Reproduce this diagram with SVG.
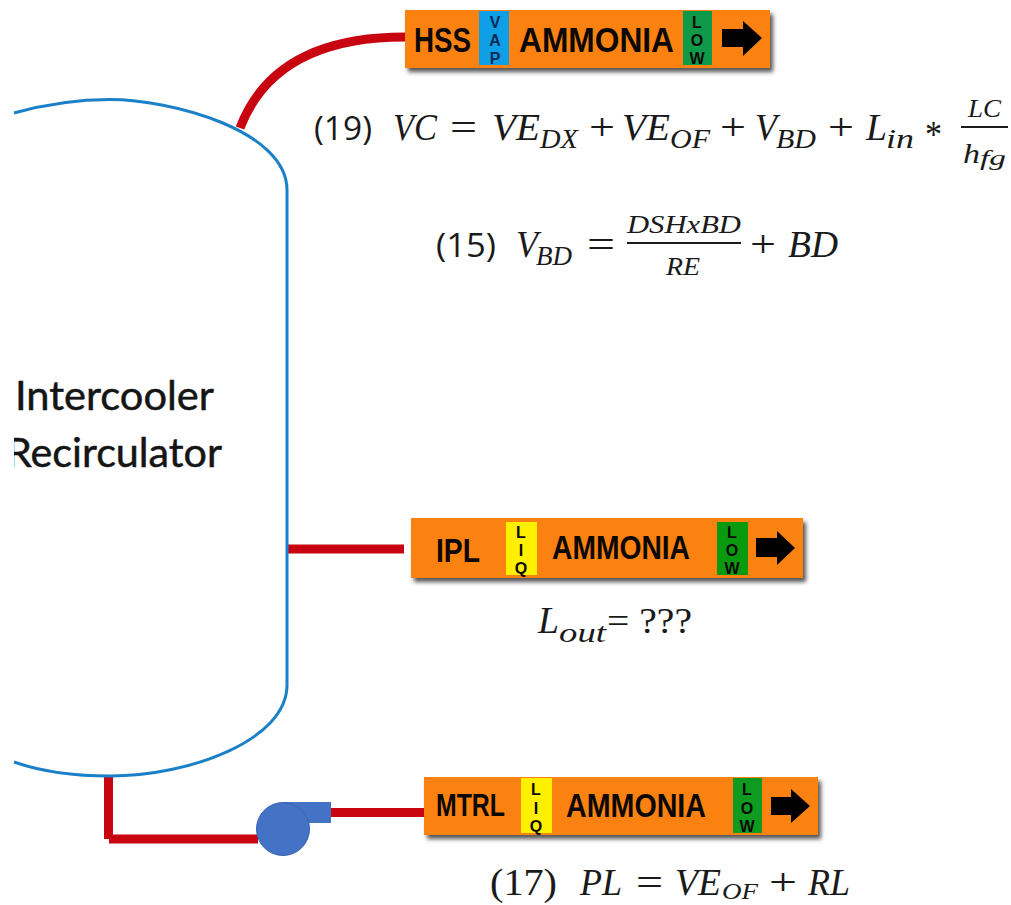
<svg xmlns="http://www.w3.org/2000/svg" width="1011" height="905" viewBox="0 0 1011 905">
<style>
.plate{fill:#fb8210}
.sh{fill:#555;filter:url(#b)}
.lb{font-family:"Liberation Sans",Arial,sans-serif;font-weight:700;fill:#0c0805}
.v{font-size:16px;text-anchor:middle}
.m{font-family:"Liberation Serif","Times New Roman",serif;font-size:38px;font-style:italic;fill:#1a1a1a}
.s{font-size:27px}
.n{font-style:normal}
.f{font-size:25px}
.pipe{fill:none;stroke:#c80410;stroke-width:9}
.rule{stroke:#1a1a1a;stroke-width:1.8}
</style>
<defs>
<filter id="b" x="-5%" y="-20%" width="110%" height="140%"><feGaussianBlur stdDeviation="2"/></filter>
<clipPath id="c"><rect x="14" y="0" width="400" height="905"/></clipPath>
</defs>
<rect width="1011" height="905" fill="#fff"/>
<g id="connectors">
<path class="pipe" d="M240 128 C262 70 315 37 405 37"/>
<path class="pipe" d="M288 549 H404"/>
<path class="pipe" d="M108.500 776 V839"/>
<path class="pipe" d="M109 839 H258"/>
<path class="pipe" d="M331 812.500 H424"/>
</g>
<g id="tank">
<path d="M14 113 C50 103 80 99.500 110 99.500 C170 99.500 287 130 287 190 V685 C287 740 190 776 110 776 C75 776 40 771 14 762" fill="none" stroke="#1a80c8" stroke-width="3"/>
<g clip-path="url(#c)" font-family="Lato,sans-serif" font-size="40" fill="#151515" stroke="#151515" stroke-width="0.5">
<text x="15" y="410" textLength="199" lengthAdjust="spacingAndGlyphs">Intercooler</text>
<text x="6" y="467" textLength="216" lengthAdjust="spacingAndGlyphs">Recirculator</text>
</g>
</g>
<g id="pump">
<rect x="283" y="802" width="48" height="21" fill="#4472c4"/>
<circle cx="283" cy="829" r="26.500" fill="#4472c4" stroke="#3a64b0"/>
</g>
<g id="label-hss">
<rect class="sh" x="408" y="14" width="365" height="58"/>
<rect class="plate" x="405" y="10" width="365" height="58"/>
<rect x="479" y="11" width="30" height="54" fill="#0f9fe6"/>
<rect x="683" y="11" width="29" height="54" fill="#0f9a4a"/>
<g class="lb">
<text x="414" y="52" font-size="35" textLength="57" lengthAdjust="spacingAndGlyphs">HSS</text>
<text x="519" y="52" font-size="35" textLength="155" lengthAdjust="spacingAndGlyphs">AMMONIA</text>
<g class="v" fill="#0b2a55"><text x="495" y="28">V</text><text x="495" y="46">A</text><text x="495" y="64">P</text></g>
<g class="v"><text x="697" y="28">L</text><text x="697" y="46">O</text><text x="697" y="64">W</text></g>
</g>
<path d="M722 29 H743 V21 L762 38 L743 56 V47 H722Z" fill="#000"/>
</g>
<g id="label-ipl">
<rect class="sh" x="414" y="522" width="392" height="60"/>
<rect class="plate" x="411" y="518" width="392" height="60"/>
<rect x="506" y="522" width="31" height="53" fill="#fff000"/>
<rect x="717" y="522" width="31" height="53" fill="#0a9a10"/>
<g class="lb">
<text x="436" y="562" font-size="33" textLength="44" lengthAdjust="spacingAndGlyphs">IPL</text>
<text x="552" y="559" font-size="33" textLength="138" lengthAdjust="spacingAndGlyphs">AMMONIA</text>
<g class="v"><text x="521" y="538">L</text><text x="521" y="556">I</text><text x="521" y="574">Q</text></g>
<g class="v"><text x="732" y="538">L</text><text x="732" y="556">O</text><text x="732" y="574">W</text></g>
</g>
<path d="M756 538 H777 V531 L795 548 L777 565 V557 H756Z" fill="#000"/>
</g>
<g id="label-mtrl">
<rect class="sh" x="427" y="781" width="394" height="58"/>
<rect class="plate" x="424" y="777" width="394" height="58"/>
<rect x="521" y="778" width="31" height="55" fill="#fff000"/>
<rect x="733" y="778" width="29" height="55" fill="#0f9a20"/>
<g class="lb">
<text x="436" y="816" font-size="31" textLength="69" lengthAdjust="spacingAndGlyphs">MTRL</text>
<text x="566" y="817" font-size="34" textLength="140" lengthAdjust="spacingAndGlyphs">AMMONIA</text>
<g class="v"><text x="536" y="795">L</text><text x="536" y="814">I</text><text x="536" y="832">Q</text></g>
<g class="v"><text x="747" y="795">L</text><text x="747" y="814">O</text><text x="747" y="832">W</text></g>
</g>
<path d="M771 797 H791 V789 L810 806 L791 823 V815 H771Z" fill="#000"/>
</g>
<g id="eq19" class="m">
<text class="n" x="314" y="140" textLength="58" lengthAdjust="spacingAndGlyphs" style="font-family:'Open Sans',sans-serif;font-size:33px">(19)</text>
<text x="393" y="140" textLength="44" lengthAdjust="spacingAndGlyphs">VC</text>
<text class="n" x="450" y="140" textLength="27" lengthAdjust="spacingAndGlyphs">=</text>
<text x="492" y="140" textLength="48" lengthAdjust="spacingAndGlyphs">VE</text>
<text class="s" x="540" y="148" textLength="38" lengthAdjust="spacingAndGlyphs">DX</text>
<text class="n" x="589" y="140" textLength="26" lengthAdjust="spacingAndGlyphs">+</text>
<text x="622" y="140" textLength="48" lengthAdjust="spacingAndGlyphs">VE</text>
<text class="s" x="670" y="148" textLength="40" lengthAdjust="spacingAndGlyphs">OF</text>
<text class="n" x="720" y="140" textLength="26" lengthAdjust="spacingAndGlyphs">+</text>
<text x="755" y="140" textLength="22" lengthAdjust="spacingAndGlyphs">V</text>
<text class="s" x="776" y="148" textLength="40" lengthAdjust="spacingAndGlyphs">BD</text>
<text class="n" x="828" y="140" textLength="26" lengthAdjust="spacingAndGlyphs">+</text>
<text x="866" y="140" textLength="21" lengthAdjust="spacingAndGlyphs">L</text>
<text class="s" x="886" y="148" textLength="28" lengthAdjust="spacingAndGlyphs">in</text>
<text class="n" x="925" y="147" textLength="17" lengthAdjust="spacingAndGlyphs">*</text>
<text class="f" x="968" y="117" textLength="33" lengthAdjust="spacingAndGlyphs">LC</text>
<line class="rule" x1="961" y1="127" x2="1008" y2="127"/>
<text class="f" x="963" y="163" style="font-size:28px" textLength="17" lengthAdjust="spacingAndGlyphs">h</text>
<text x="980" y="165" style="font-size:21px" textLength="26" lengthAdjust="spacingAndGlyphs">fg</text>
</g>
<g id="eq15" class="m">
<text class="n" x="436" y="257" textLength="60" lengthAdjust="spacingAndGlyphs" style="font-family:'Open Sans',sans-serif;font-size:33px">(15)</text>
<text x="516" y="257" textLength="22" lengthAdjust="spacingAndGlyphs">V</text>
<text class="s" x="536" y="265" textLength="36" lengthAdjust="spacingAndGlyphs">BD</text>
<text class="n" x="587" y="257" textLength="28" lengthAdjust="spacingAndGlyphs">=</text>
<text class="f" x="627" y="233" textLength="114" lengthAdjust="spacingAndGlyphs">DSHxBD</text>
<line class="rule" x1="627" y1="243" x2="741" y2="243"/>
<text class="f" x="666" y="275" textLength="34" lengthAdjust="spacingAndGlyphs">RE</text>
<text class="n" x="750" y="257" textLength="26" lengthAdjust="spacingAndGlyphs">+</text>
<text x="788" y="257" textLength="50" lengthAdjust="spacingAndGlyphs">BD</text>
</g>
<g id="eq-lout" class="m">
<text x="538" y="633" textLength="21" lengthAdjust="spacingAndGlyphs">L</text>
<text class="s" x="559" y="642" textLength="47" lengthAdjust="spacingAndGlyphs">out</text>
<text class="n" x="607" y="633" textLength="85" lengthAdjust="spacingAndGlyphs" style="font-size:36px">= ???</text>
</g>
<g id="eq17" class="m">
<text class="n" x="490" y="895" textLength="67" lengthAdjust="spacingAndGlyphs">(17)</text>
<text x="580" y="895" textLength="42" lengthAdjust="spacingAndGlyphs">PL</text>
<text class="n" x="636" y="895" textLength="27" lengthAdjust="spacingAndGlyphs">=</text>
<text x="675" y="895" textLength="46" lengthAdjust="spacingAndGlyphs">VE</text>
<text class="s" x="722" y="899" style="font-size:24px" textLength="36" lengthAdjust="spacingAndGlyphs">OF</text>
<text class="n" x="769" y="895" textLength="28" lengthAdjust="spacingAndGlyphs">+</text>
<text x="808" y="895" textLength="42" lengthAdjust="spacingAndGlyphs">RL</text>
</g>
</svg>
